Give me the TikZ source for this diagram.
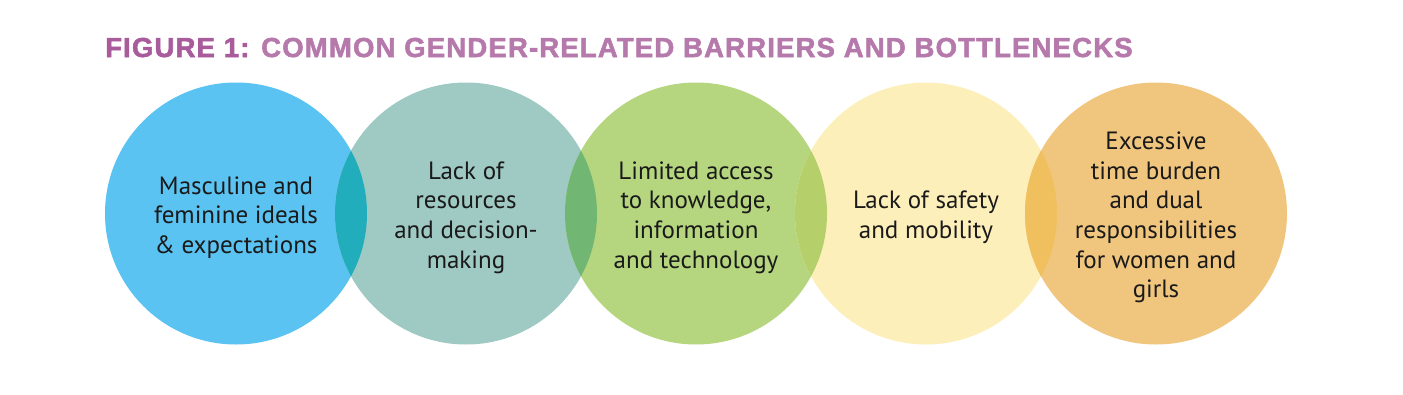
\documentclass[tikz,border=0pt]{standalone}
\usepackage{fontspec}
\setmainfont{PT Sans}
\newfontfamily\titlefont{Liberation Sans}[LetterSpace=4.3,FakeBold=2]

\definecolor{titlepink}{HTML}{B679AB}
\definecolor{titledark}{HTML}{A85C9C}
\definecolor{blueC}{HTML}{5BC3F2}
\definecolor{tealC}{HTML}{9FC9C3}
\definecolor{greenC}{HTML}{B5D67F}
\definecolor{yellowC}{HTML}{FDEFBA}
\definecolor{orangeC}{HTML}{F0C67E}
\definecolor{blueteal}{HTML}{22ADBD}
\definecolor{tealgreen}{HTML}{72B673}
\definecolor{greenyellow}{HTML}{B5CF6B}
\definecolor{yelloworange}{HTML}{F0BF5E}
\definecolor{textblack}{HTML}{1A1A1A}

\tikzset{
  bubble/.style={circle,minimum size=262pt,inner sep=0pt,draw=none},
  label text/.style={align=center,text=textblack,yshift=-4pt,
    font=\fontsize{25}{29.6}\selectfont}
}

\begin{document}
\begin{tikzpicture}[x=1pt,y=-1pt]

\useasboundingbox (0,0) rectangle (1403,394);

% Title
\node[anchor=base west,inner sep=0pt,font=\titlefont\bfseries\fontsize{27.5}{30}\selectfont]
  (title) at (105,57) {\textcolor{titledark}{FIGURE 1:} \textcolor{titlepink}{COMMON GENDER-RELATED BARRIERS AND BOTTLENECKS}};

% Circles
\node[bubble,fill=blueC] (masc) at (236,213.5) {};
\node[bubble,fill=tealC] (res) at (466,213.5) {};
\node[bubble,fill=greenC] (know) at (696,213.5) {};
\node[bubble,fill=yellowC] (safe) at (926,213.5) {};
\node[bubble,fill=orangeC] (time) at (1156,213.5) {};

% Overlaps
\begin{scope}
  \clip (masc.center) circle (131);
  \fill[blueteal] (res.center) circle (131);
\end{scope}
\begin{scope}
  \clip (res.center) circle (131);
  \fill[tealgreen] (know.center) circle (131);
\end{scope}
\begin{scope}
  \clip (know.center) circle (131);
  \fill[greenyellow] (safe.center) circle (131);
\end{scope}
\begin{scope}
  \clip (safe.center) circle (131);
  \fill[yelloworange] (time.center) circle (131);
\end{scope}

% Labels
\node[label text] (mascText) at (masc.center) {Masculine and\\feminine ideals\\\& expectations};
\node[label text] (resText) at (res.center) {Lack of\\resources\\and decision-\\making};
\node[label text] (knowText) at (know.center) {Limited access\\to knowledge,\\information\\and technology};
\node[label text] (safeText) at (safe.center) {Lack of safety\\and mobility};
\node[label text] (timeText) at (time.center) {Excessive\\time burden\\and dual\\responsibilities\\for women and\\girls};

\end{tikzpicture}
\end{document}
